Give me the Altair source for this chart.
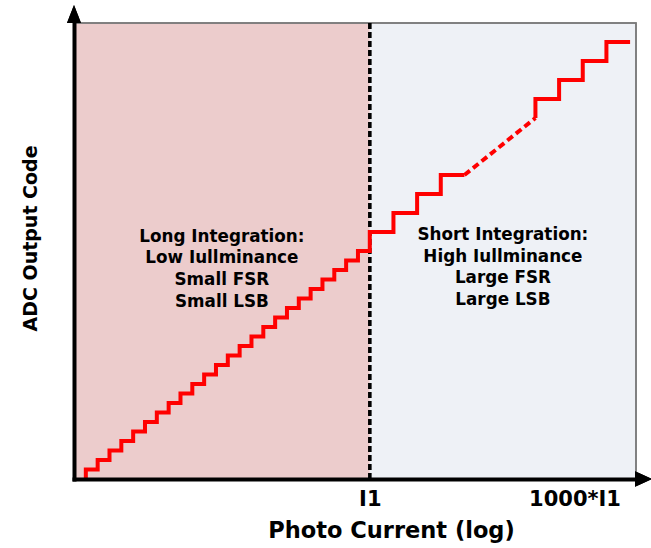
import altair as alt
import pandas as pd

# ---- values (x: fine-LSB step units, y: output codes)
left_rise_x = list(range(1, 25))
left_codes = list(range(1, 25))
start_x, start_code = 1, 0
I1 = 25
right_low_rise_x = [25, 27, 29, 31]
right_low_codes = [26, 28, 30, 32]
low_end_x = 33
gap_x = [33, 39]
gap_codes = [32, 38]
right_high_rise_x = [39, 41, 43, 45]
right_high_codes = [40, 42, 44, 46]
high_end_x = 47
x_max = 47.5
y_max = 48

tick_values = [25, 42.3]
tick_labels = ["I1", "1000*I1"]

region_x0 = [0, 25]
region_x1 = [25, 47.5]
region_colors = ["#ECCCCC", "#EEF1F6"]
region_text = [
    "Long Integration:\nLow Iullminance\nSmall FSR\nSmall LSB",
    "Short Integration:\nHigh Iullminance\nLarge FSR\nLarge LSB",
]
text_code = [25.5, 25.7]

FONT = "DejaVu Sans"

# ---- tables
seg1_x = [start_x] + left_rise_x + right_low_rise_x + [low_end_x]
seg1_y = [start_code] + left_codes + right_low_codes + [right_low_codes[-1]]
seg1 = pd.DataFrame({"x": seg1_x, "y": seg1_y, "i": range(len(seg1_x))})

seg2_x = [gap_x[1]] + right_high_rise_x + [high_end_x]
seg2_y = [gap_codes[1]] + right_high_codes + [right_high_codes[-1]]
seg2 = pd.DataFrame({"x": seg2_x, "y": seg2_y, "i": range(len(seg2_x))})

gap = pd.DataFrame({"x": gap_x, "y": gap_codes, "i": range(len(gap_x))})

regions = pd.DataFrame({
    "x0": region_x0, "x1": region_x1,
    "y0": [0, 0], "y1": [y_max, y_max],
    "color": region_colors, "label": region_text, "ty": text_code,
})
regions["xc"] = (regions["x0"] + regions["x1"]) / 2

label_expr = "[" + ",".join("'" + t + "'" for t in tick_labels) + "][indexof([" + \
    ",".join(str(v) for v in tick_values) + "], datum.value)]"

xscale = alt.Scale(domain=[0, x_max], nice=False, zero=False)
yscale = alt.Scale(domain=[0, y_max], nice=False, zero=False)

xaxis = alt.Axis(
    values=tick_values, labelExpr=label_expr, title="Photo Current (log)",
    grid=False, ticks=False, tickSize=0, domainColor="black", domainWidth=4,
    domainCap="square", zindex=1,
    labelFont=FONT, labelFontWeight="bold", labelFontSize=21, labelColor="black",
    labelPadding=9,
    titleFont=FONT, titleFontWeight="bold", titleFontSize=22.5, titleColor="black",
    titleX=317, titleY=40,
)
yaxis = alt.Axis(
    title="ADC Output Code", labels=False, ticks=False, tickSize=0, grid=False,
    domainColor="black", domainWidth=4, domainCap="square", zindex=1,
    titleFont=FONT, titleFontWeight="bold", titleFontSize=19, titleColor="black",
    titleX=-38, titleY=215, titleBaseline="alphabetic", titleAngle=270,
)

bg = alt.Chart(regions).mark_rect(opacity=1).encode(
    x=alt.X("x0:Q", scale=xscale, axis=xaxis),
    x2="x1",
    y=alt.Y("y0:Q", scale=yscale, axis=yaxis),
    y2="y1",
    color=alt.Color("color:N", scale=None),
)

frame = alt.Chart(regions).mark_rect(fill="transparent", stroke="#7a7a7a", strokeWidth=1.5).encode(
    x=alt.datum(0), x2=alt.datum(x_max), y=alt.datum(0), y2=alt.datum(y_max)
)

divider = alt.Chart(regions).mark_rule(color="black", strokeWidth=3.2, strokeDash=[6, 3]).encode(
    x=alt.datum(I1), y=alt.datum(0), y2=alt.datum(y_max)
)

line1 = alt.Chart(seg1).mark_line(color="#FF0000", strokeWidth=4, interpolate="step-after").encode(
    x="x:Q", y="y:Q", order="i:Q"
)
line2 = alt.Chart(seg2).mark_line(color="#FF0000", strokeWidth=4, interpolate="step-after").encode(
    x="x:Q", y="y:Q", order="i:Q"
)
dash = alt.Chart(gap).mark_line(color="#FF0000", strokeWidth=4, strokeDash=[7, 4]).encode(
    x="x:Q", y="y:Q", order="i:Q"
)

texts = alt.Chart(regions).mark_text(
    font=FONT, fontWeight="bold", fontSize=16.8, lineBreak="\n", lineHeight=21.7,
    align="center", baseline="middle", color="black",
).encode(x="xc:Q", y="ty:Q", text="label:N")

up_arrow = alt.Chart(regions).mark_point(
    shape="M0,-1L0.78,1L-0.78,1Z", size=324, filled=True, color="black", opacity=1
).encode(x=alt.datum(0), y=alt.datum(48.95))

right_arrow = alt.Chart(regions).mark_point(
    shape="M1,0L-1,0.9L-1,-0.9Z", size=289, filled=True, color="black", opacity=1
).encode(x=alt.datum(48.14), y=alt.datum(0))

chart = alt.layer(bg, frame, divider, line1, dash, line2, texts, up_arrow, right_arrow).properties(
    width=562, height=456,
    padding={"left": 74, "top": 23, "right": 15, "bottom": 69},
    autosize=alt.AutoSizeParams(type="none"),
    background="white",
).configure_view(stroke="transparent")

chart.save("out.html", embed_options={"renderer": "svg", "actions": False})
